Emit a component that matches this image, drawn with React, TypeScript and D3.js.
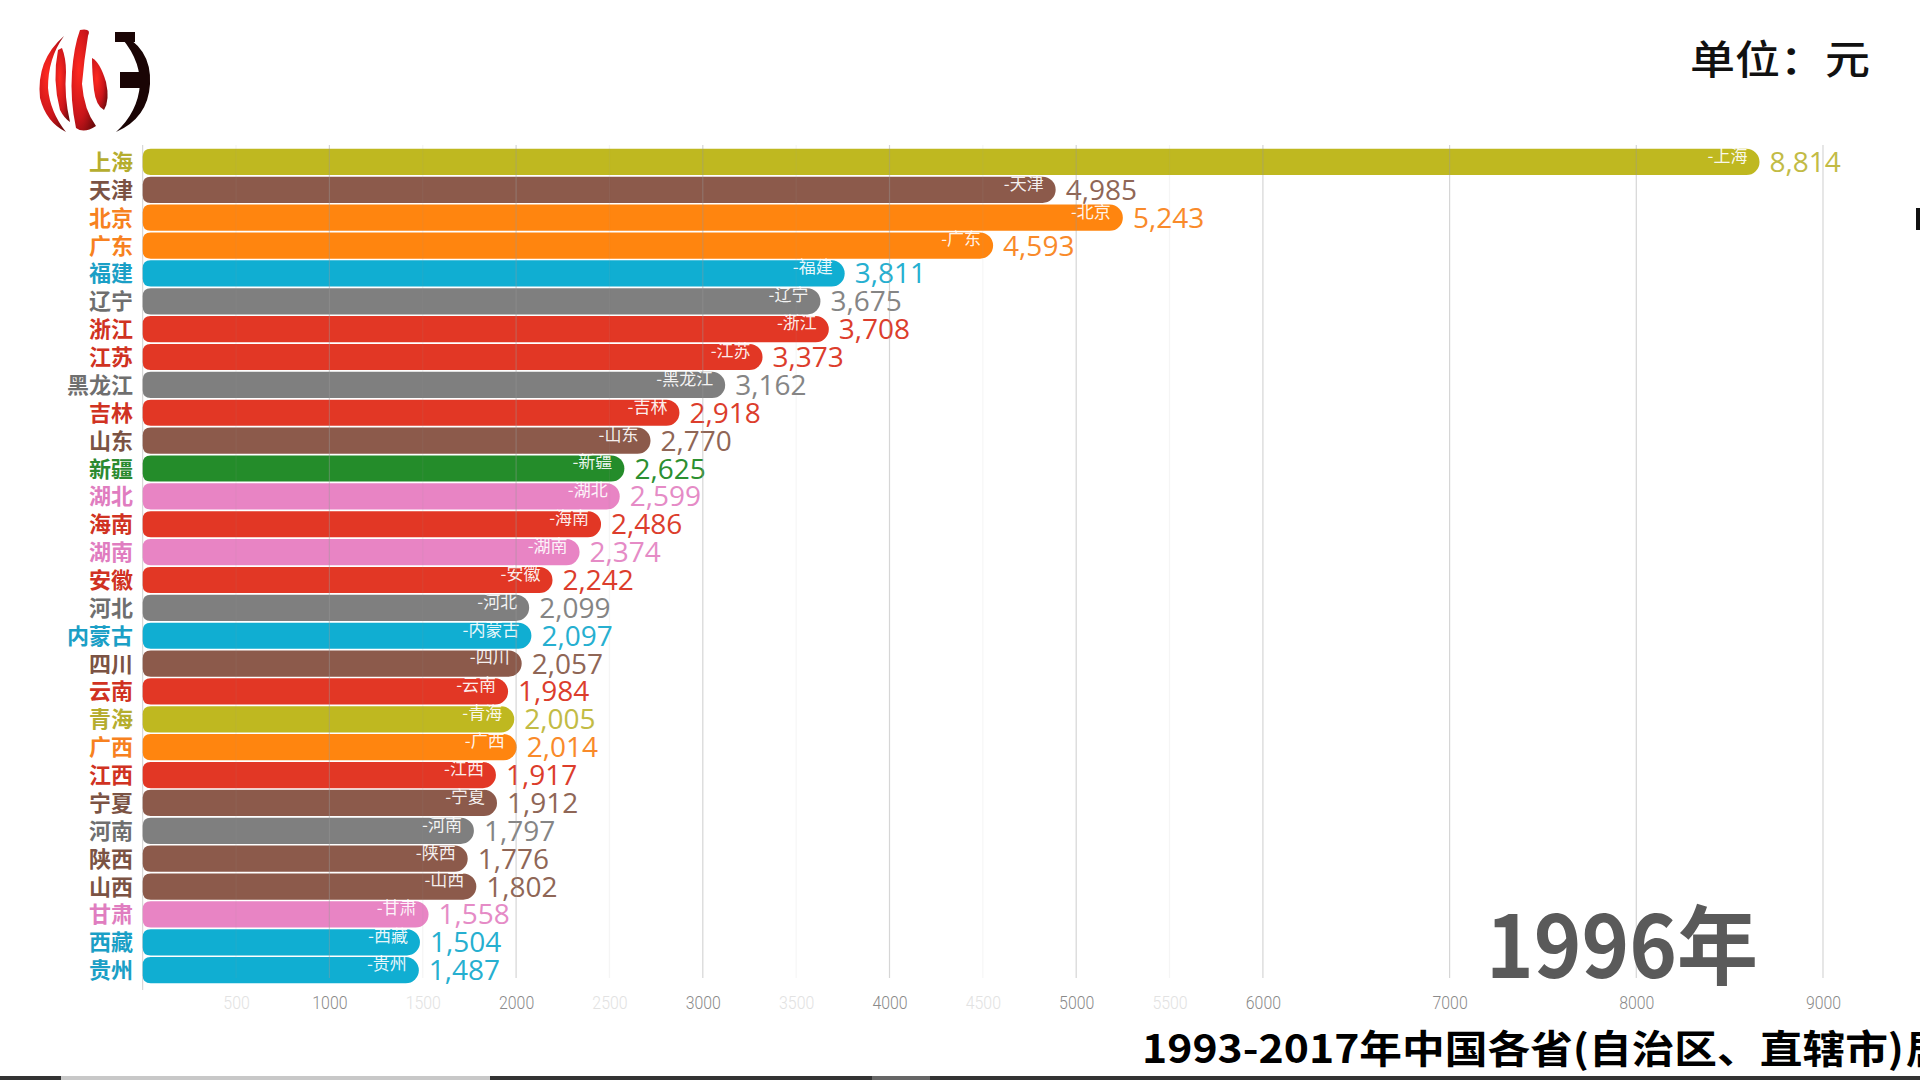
import React, { useEffect, useRef } from "react";
import * as d3 from "d3";

const provinces = [
  "上海", "天津", "北京", "广东", "福建", "辽宁", "浙江", "江苏", "黑龙江", "吉林",
  "山东", "新疆", "湖北", "海南", "湖南", "安徽", "河北", "内蒙古", "四川", "云南",
  "青海", "广西", "江西", "宁夏", "河南", "陕西", "山西", "甘肃", "西藏", "贵州",
];
// value labels shown in the frame
const values = [
  8814, 4985, 5243, 4593, 3811, 3675, 3708, 3373, 3162, 2918,
  2770, 2625, 2599, 2486, 2374, 2242, 2099, 2097, 2057, 1984,
  2005, 2014, 1917, 1912, 1797, 1776, 1802, 1558, 1504, 1487,
];
// bar lengths as drawn in the frame (mid-animation)
const barValues = [
  8660, 4890, 5250, 4555, 3760, 3630, 3675, 3320, 3120, 2875,
  2720, 2580, 2555, 2455, 2340, 2195, 2070, 2082, 2030, 1957,
  1990, 2003, 1892, 1898, 1774, 1741, 1787, 1531, 1485, 1479,
];
const groups = [
  "olive", "brown", "orange", "orange", "cyan", "gray", "red", "red", "gray", "red",
  "brown", "green", "pink", "red", "pink", "red", "gray", "cyan", "brown", "red",
  "olive", "orange", "red", "brown", "gray", "brown", "brown", "pink", "cyan", "cyan",
];
const tickValues = [500, 1000, 1500, 2000, 2500, 3000, 3500, 4000, 4500, 5000, 5500, 6000, 7000, 8000, 9000];
const yearLabel = "1996年";
const unitLabel = "单位：元";
const titleLabel = "1993-2017年中国各省(自治区、直辖市)";

const barColors: Record<string, string> = {
  olive: "#bfb820", brown: "#8c5a4b", orange: "#ff850f", cyan: "#10aed2",
  gray: "#7f7f7f", red: "#e23725", green: "#248c2a", pink: "#e884c4",
};
const valueColors: Record<string, string> = {
  olive: "#c2bb45", brown: "#8f6656", orange: "#f98a2a", cyan: "#26afd0",
  gray: "#858585", red: "#dc3d2c", green: "#2c8f30", pink: "#e58bc6",
};
const labelColors: Record<string, string> = {
  olive: "#b5ad2e", brown: "#7b5344", orange: "#f78120", cyan: "#1b9fc6",
  gray: "#6f6f6f", red: "#d03222", green: "#2b8a2f", pink: "#e07dc0",
};

const W = 1920;
const H = 1080;

export default function App() {
  const ref = useRef<SVGSVGElement | null>(null);

  useEffect(() => {
    const svg = d3.select(ref.current);
    svg.selectAll("*").remove();

    const data = provinces.map((p, i) => ({ name: p, value: values[i], bar: barValues[i], group: groups[i] }));

    const x = d3.scaleLinear().domain([0, 9000]).range([142.7, 1823]);
    const y = d3.scaleBand<string>().domain(provinces).range([148, 984.1]).paddingInner(0.06).paddingOuter(0.03);
    const bh = y.bandwidth();

    const defs = svg.append("defs");
    const rg = defs.append("radialGradient").attr("id", "redg").attr("cx", "0.3").attr("cy", "0.4").attr("r", "0.8");
    rg.append("stop").attr("offset", "0").attr("stop-color", "#ff2a20");
    rg.append("stop").attr("offset", "0.6").attr("stop-color", "#c8141a");
    rg.append("stop").attr("offset", "1").attr("stop-color", "#6e0a0c");

    svg.append("rect").attr("width", W).attr("height", H).attr("fill", "#ffffff");

    // logo
    const logo = svg.append("g");
    logo.append("path").attr("d", "M64,36 Q36,60 40,98 Q46,122 66,132 Q50,112 48,88 Q48,58 64,36 Z").attr("fill", "url(#redg)");
    logo.append("path").attr("d", "M58,50 Q52,80 60,110 Q64,118 70,122 Q64,96 66,72 Q66,58 62,48 Z").attr("fill", "url(#redg)");
    logo.append("path").attr("d", "M80,30 Q92,28 88,36 Q84,60 82,84 Q84,110 96,126 Q84,134 76,128 Q70,100 72,72 Q74,46 80,30 Z").attr("fill", "url(#redg)");
    logo.append("path").attr("d", "M92,58 Q100,62 106,82 Q110,100 104,110 Q96,106 94,90 Q92,72 92,58 Z").attr("fill", "url(#redg)");
    logo.append("path").attr("d", "M116,32 Q152,46 150,84 Q148,118 116,132 Q138,112 140,84 Q140,56 116,32 Z").attr("fill", "#1a0505");
    logo.append("rect").attr("x", 120).attr("y", 72).attr("width", 28).attr("height", 16).attr("fill", "#1a0505");
    logo.append("rect").attr("x", 115).attr("y", 32).attr("width", 20).attr("height", 10).attr("fill", "#1a0505");

    // unit label
    svg.append("text").attr("x", 1690).attr("y", 74).attr("font-family", "Noto Sans CJK SC").attr("font-size", 40)
      .attr("font-weight", 500).attr("fill", "#111").attr("textLength", 180).attr("lengthAdjust", "spacingAndGlyphs").text(unitLabel);

    // left axis line
    svg.append("line").attr("x1", x(0)).attr("x2", x(0)).attr("y1", 145).attr("y2", 990).attr("stroke", "#d0d0d0").attr("stroke-width", 1);

    const barPath = (x0: number, x1: number, yy: number, h: number) => {
      const rl = 8;
      const rr = h / 2;
      return `M${x0 + rl},${yy} H${x1 - rr} A${rr},${rr} 0 0 1 ${x1 - rr},${yy + h} H${x0 + rl} Q${x0},${yy + h} ${x0},${yy + h - rl} V${yy + rl} Q${x0},${yy} ${x0 + rl},${yy} Z`;
    };

    const rows = svg.append("g").selectAll("g").data(data).join("g");
    rows.append("path").attr("d", (d) => barPath(x(0), x(d.bar), y(d.name)!, bh)).attr("fill", (d) => barColors[d.group]);

    // grid lines on top
    const grid = svg.append("g");
    grid.selectAll("line").data(tickValues).join("line")
      .attr("x1", (d) => x(d)).attr("x2", (d) => x(d)).attr("y1", 145).attr("y2", 978)
      .attr("stroke", "#999").attr("stroke-opacity", (d) => (d % 1000 === 0 ? 0.4 : 0.1)).attr("stroke-width", 1.2);

    rows.append("text").attr("x", (d) => x(d.bar) - 12).attr("y", (d) => y(d.name)! + 13)
      .attr("text-anchor", "end").attr("font-family", "Noto Sans CJK SC").attr("font-size", 17)
      .attr("fill", "#ffffff").attr("fill-opacity", 0.92).text((d) => "-" + d.name);

    rows.append("text").attr("x", (d) => x(d.bar) + 10).attr("y", (d) => y(d.name)! + bh / 2 + 10)
      .attr("font-family", "Open Sans").attr("font-size", 28).attr("fill", (d) => valueColors[d.group])
      .text((d) => d3.format(",")(d.value));

    rows.append("text").attr("x", 133).attr("y", (d) => y(d.name)! + bh / 2 + 8)
      .attr("text-anchor", "end").attr("font-family", "Noto Sans CJK SC").attr("font-weight", 700).attr("font-size", 22)
      .attr("fill", (d) => labelColors[d.group]).text((d) => d.name);

    // x axis
    const axis = d3.axisBottom(x).tickValues(tickValues).tickSize(0).tickFormat((d) => String(d));
    const ax = svg.append("g").attr("transform", "translate(0,992)").call(axis);
    ax.select(".domain").remove();
    ax.selectAll<SVGTextElement, number>("text")
      .attr("font-family", "Roboto").attr("font-weight", 300).attr("font-size", 19)
      .attr("fill", (d) => (d % 1000 === 0 ? "#8a8a8a" : "#e2e2e2"))
      .attr("textLength", (d) => String(d).length * 8.8).attr("lengthAdjust", "spacingAndGlyphs");

    // year
    svg.append("text").attr("x", 1758).attr("y", 978).attr("text-anchor", "end")
      .attr("font-family", "Noto Sans CJK SC").attr("font-weight", 700).attr("font-size", 86)
      .attr("fill", "#5a5a5a").attr("textLength", 272).attr("lengthAdjust", "spacingAndGlyphs").text(yearLabel);

    // title
    svg.append("text").attr("x", 1142).attr("y", 1063).attr("font-family", "Noto Sans CJK SC").attr("font-weight", 700)
      .attr("font-size", 39).attr("fill", "#000").attr("textLength", 762).attr("lengthAdjust", "spacingAndGlyphs").text(titleLabel);
    svg.append("text").attr("x", 1906).attr("y", 1063).attr("font-family", "Noto Sans CJK SC").attr("font-weight", 700)
      .attr("font-size", 39).attr("fill", "#000").text("居");

    // video progress strip
    const strip = svg.append("g");
    strip.append("rect").attr("x", 0).attr("y", 1076).attr("width", W).attr("height", 4).attr("fill", "#333");
    strip.append("rect").attr("x", 61).attr("y", 1076).attr("width", 429).attr("height", 4).attr("fill", "#c8c8c8");
    strip.append("rect").attr("x", 872).attr("y", 1076).attr("width", 58).attr("height", 4).attr("fill", "#666");
    strip.append("rect").attr("x", 1916).attr("y", 208).attr("width", 4).attr("height", 22).attr("fill", "#111");
  }, []);

  return (
    <svg ref={ref} width={W} height={H} style={{ position: "absolute", left: 0, top: 0, display: "block" }} />
  );
}
